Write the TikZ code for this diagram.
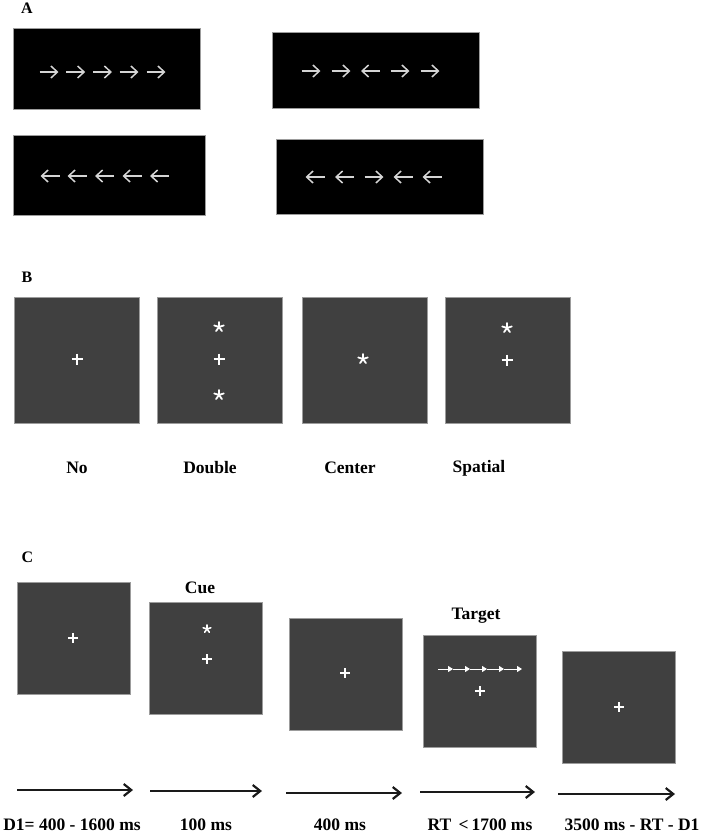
\documentclass[tikz,border=0pt]{standalone}
\usepackage{fontspec}
\setmainfont{Liberation Serif}
\usetikzlibrary{arrows.meta}
\definecolor{boxgray}{HTML}{404040}
\definecolor{edgegray}{HTML}{9C9C9C}
\definecolor{flkcol}{HTML}{D4D4D4}
\definecolor{tlcol}{HTML}{1A1A1A}
\begin{document}
\begin{tikzpicture}[x=1pt,y=-1pt,
  blackbox/.style={draw=edgegray,line width=0.8pt,fill=black,inner sep=0pt,outer sep=0pt},
  graybox/.style={draw=edgegray,line width=0.8pt,fill=boxgray,inner sep=0pt,outer sep=0pt,minimum width=125pt,minimum height=126pt},
  cbox/.style={draw=edgegray,line width=0.8pt,fill=boxgray,inner sep=0pt,outer sep=0pt,minimum width=113pt,minimum height=112pt},
  panel/.style={font=\fontsize{16}{18}\selectfont\bfseries},
  lab/.style={font=\fontsize{17.5}{20}\selectfont\bfseries,inner sep=0pt},
  flk/.style={draw=flkcol,line width=1.5pt,-{Straight Barb[length=6.5pt,width=12pt,line width=1.5pt]}},
  tl/.style={draw=tlcol,line width=2.2pt,-{Straight Barb[length=7.5pt,width=12pt,line width=2.2pt]}},
  tgt/.style={draw=white,line width=1pt,-{Triangle[length=5pt,width=6pt]}},
  rarr/.pic={\draw[flk] (-9.5,0) -- (9.5,0);},
  larr/.pic={\draw[flk] (9.5,0) -- (-9.5,0);},
  fixplus/.pic={\draw[white,line width=2.4pt] (-5.5,0) -- (5.5,0) (0,-5.5) -- (0,5.5);},
  smallplus/.pic={\draw[white,line width=2.2pt] (-5,0) -- (5,0) (0,-5) -- (0,5);},
  cuestar/.pic={\foreach \a in {90,162,234,306,18}{\draw[white,line width=1.8pt,line cap=round] (0,0) -- (\a:-5);}},
  tinystar/.pic={\foreach \a in {90,162,234,306,18}{\draw[white,line width=1.6pt,line cap=round] (0,0) -- (\a:-4);}},
]
\useasboundingbox (0,0) rectangle (708,839);

% ---------------- Panel A ----------------
\node[panel] (lA) at (27,8) {A};
\node[blackbox,minimum width=187pt,minimum height=81pt] (a1) at (106.5,68.5) {};
\node[blackbox,minimum width=207pt,minimum height=76pt] (a2) at (375.5,70) {};
\node[blackbox,minimum width=192pt,minimum height=80pt] (a3) at (109,175) {};
\node[blackbox,minimum width=207pt,minimum height=75pt] (a4) at (379.5,176.5) {};

\foreach \x in {49,75.7,102.5,129,156}{\pic at (\x,72) {rarr};}
\pic at (311,71) {rarr};
\pic at (341,71) {rarr};
\pic at (370.5,71) {larr};
\pic at (400,71) {rarr};
\pic at (430,71) {rarr};
\foreach \x in {50,77,104.5,132,159.5}{\pic at (\x,176) {larr};}
\pic at (315,177) {larr};
\pic at (344.5,177) {larr};
\pic at (374,177) {rarr};
\pic at (403,177) {larr};
\pic at (432,177) {larr};

% ---------------- Panel B ----------------
\node[panel] (lB) at (27,277) {B};
\node[graybox] (b1) at (76.5,360) {};
\node[graybox] (b2) at (219.5,360) {};
\node[graybox] (b3) at (364.5,360) {};
\node[graybox] (b4) at (507.5,360) {};

\pic at (77,359) {fixplus};
\pic at (219,327) {cuestar};
\pic at (219,359) {fixplus};
\pic at (219,395) {cuestar};
\pic at (363,359) {cuestar};
\pic at (507,328) {cuestar};
\pic at (507,360) {fixplus};

\node[lab] (nNo) at (77,468) {No};
\node[lab] (nDouble) at (210,468) {Double};
\node[lab] (nCenter) at (350,468) {Center};
\node[lab] (nSpatial) at (479,468) {Spatial};

% ---------------- Panel C ----------------
\node[panel] (lC) at (27.5,557) {C};
\node[cbox] (c1) at (73.5,638) {};
\node[cbox] (c2) at (206,658) {};
\node[cbox] (c3) at (346,674) {};
\node[cbox] (c4) at (480,691) {};
\node[cbox] (c5) at (619,707) {};

\node[lab] (cue) at (200,588) {Cue};
\node[lab] (target) at (476,616) {Target};

\pic at (73,638) {smallplus};
\pic at (207,629) {tinystar};
\pic at (207,659) {smallplus};
\pic at (345,673) {smallplus};
\pic at (480,691) {smallplus};
\pic at (619,707) {smallplus};

\coordinate (t0) at (438,669);
\coordinate (t1) at (453,669);
\coordinate (t2) at (470,669);
\coordinate (t3) at (487,669);
\coordinate (t4) at (504,669);
\coordinate (t5) at (522,669);
\draw[tgt] (t0) -- (t1);
\draw[tgt] (t1) -- (t2);
\draw[tgt] (t2) -- (t3);
\draw[tgt] (t3) -- (t4);
\draw[tgt] (t4) -- (t5);

% timeline
\coordinate (s1) at (17,790);  \coordinate (e1) at (133,790);
\coordinate (s2) at (150,791); \coordinate (e2) at (262,791);
\coordinate (s3) at (286,793); \coordinate (e3) at (402,793);
\coordinate (s4) at (420,792); \coordinate (e4) at (535,792);
\coordinate (s5) at (558,794); \coordinate (e5) at (675,794);
\draw[tl] (s1) -- (e1);
\draw[tl] (s2) -- (e2);
\draw[tl] (s3) -- (e3);
\draw[tl] (s4) -- (e4);
\draw[tl] (s5) -- (e5);

\node[lab] (d1) at (72,825) {D1= 400 - 1600 ms};
\node[lab] (d2) at (206,825) {100 ms};
\node[lab] (d3) at (340,825) {400 ms};
\node[lab] (d4) at (480,825) {RT \,<\,1700 ms};
\node[lab] (d5) at (632,825) {3500 ms - RT - D1};
\end{tikzpicture}
\end{document}
